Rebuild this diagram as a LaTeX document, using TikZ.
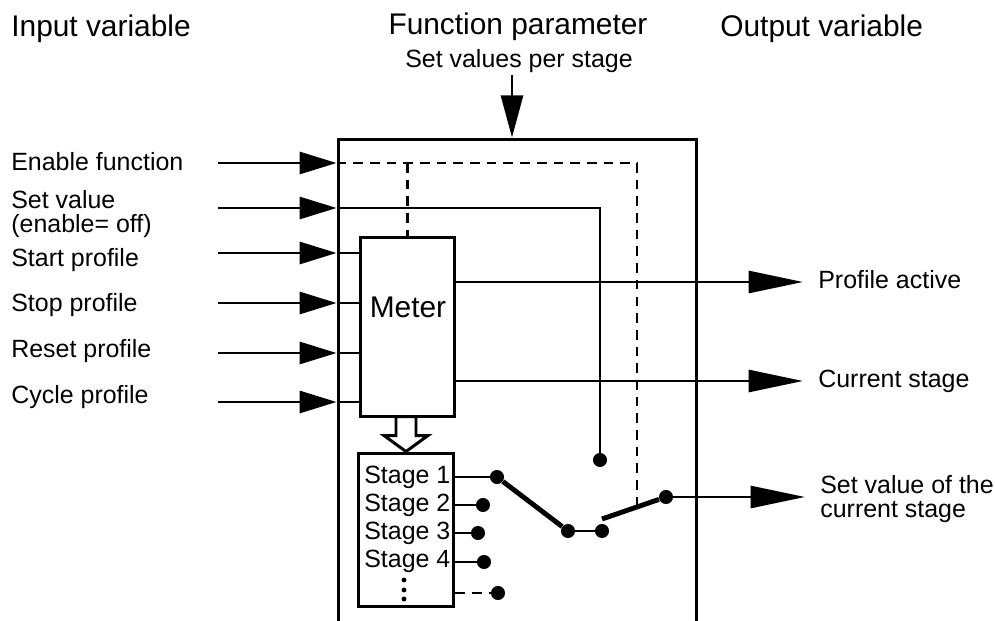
\documentclass[tikz,border=0pt]{standalone}
\usepackage{fontspec}
\setmainfont{Liberation Sans}
\usetikzlibrary{arrows.meta}
\newcommand{\headsize}{\fontsize{17}{20}\selectfont}
\newcommand{\textsz}{\fontsize{14.2}{14.2}\selectfont}

\begin{document}
\begin{tikzpicture}[
    x=0.02cm, y=-0.02cm,
    every node/.style={font=\textsz, inner sep=0pt},
    head/.style={font=\headsize},
    wire/.style={line width=1.7pt},
    dashwire/.style={wire, dash pattern=on 5.5pt off 4pt},
    lever/.style={line width=2.8pt},
    inarr/.style={wire, -{Triangle[length=21pt, width=12.5pt]}},
    outarr/.style={wire, -{Triangle[length=31pt, width=12.5pt]}},
    toparr/.style={wire, -{Triangle[length=24pt, width=12.5pt]}},
    box/.style={rectangle, draw, line width=1.7pt},
    dot/.style={circle, fill, minimum size=8pt},
    tinydot/.style={circle, fill, minimum size=2.8pt},
]
    \useasboundingbox (0,0) rectangle (995,621);

    % headings
    \node[head, anchor=base west] (hIn) at (11,37) {Input variable};
    \node[head, anchor=base] (hFn) at (518,35) {Function parameter};
    \node[anchor=base] (hSet) at (519,68) {Set values per stage};
    \node[head, anchor=base west] (hOut) at (720,37) {Output variable};

    % function block, meter and stages
    \node[box, minimum width=7.18cm, minimum height=10.42cm] (fb) at (517.5,399.5) {};
    \node[box, minimum width=1.9cm, minimum height=3.6cm] (meter) at (407.5,327) {};
    \node[head, anchor=base] (meterlbl) at (408,318) {Meter};
    \node[box, minimum width=1.92cm, minimum height=3.08cm] (stg) at (406,530) {};
    \foreach \i/\y in {1/484, 2/512, 3/540, 4/568}
        \node[anchor=base west] (st\i) at (364,\y) {Stage \i};
    \foreach \y [count=\k] in {580, 590, 599}
        \node[tinydot] (el\k) at (404,\y) {};
    \draw[wire, fill=white] (stg.north) -- ++(-22,-16) -- ++(12,0) -- ++(0,-19)
        -- ++(20,0) -- ++(0,19) -- ++(12,0) -- cycle;

    \coordinate (pTop) at (512,75);
    \draw[toparr] (pTop) -- (pTop |- fb.north);

    % inputs
    \node[anchor=base west] (lEn) at (11,171) {Enable function};
    \node[anchor=base west, align=left] (lSv) at (11,233) {Set value\\(enable= off)};
    \coordinate (iEn) at (218,163);
    \coordinate (iSv) at (218,208);
    \draw[inarr] (iEn) -- (fb.west |- iEn);
    \draw[inarr] (iSv) -- (fb.west |- iSv);
    \foreach \n/\y/\b in {Start/253/267, Stop/303/312, Reset/353/358, Cycle/402/404} {
        \node[anchor=base west] (l\n) at (11,\b) {\n\ profile};
        \coordinate (i\n) at (218,\y);
        \draw[inarr] (i\n) -- (fb.west |- i\n);
        \draw[wire] (fb.west |- i\n) -- (meter.west |- i\n);
    }

    % selector switch
    \node[dot] (d1) at (497,477) {};
    \node[dot] (d2) at (483,505) {};
    \node[dot] (d3) at (478,533) {};
    \node[dot] (d4) at (484,562) {};
    \node[dot] (d5) at (498,593) {};
    \foreach \k in {1,...,4}
        \draw[wire] (stg.east |- d\k) -- (d\k);
    \draw[dashwire] (stg.east |- d5) -- (d5);
    \node[dot] (svdot) at (600,460) {};
    \node[dot] (pv) at (568,531) {};
    \node[dot] (pw) at (602,531) {};
    \node[dot] (dout) at (666,497) {};
    \coordinate (lev) at (602,519);
    \coordinate (dsw) at (637,507);
    \draw[lever] (d1) -- (pv);
    \draw[wire] (pv) -- (pw);
    \draw[lever] (lev) -- (dout);

    \draw[wire] (fb.west |- iSv) -| (svdot);
    \draw[dashwire] (fb.west |- iEn) -| (dsw);
    \draw[dashwire] (meter.north |- iEn) -- (meter.north);

    % outputs
    \coordinate (oAct) at (803,282);
    \coordinate (oCur) at (803,381);
    \coordinate (oSet) at (805,497);
    \draw[outarr] (meter.east |- oAct) -- (oAct);
    \draw[outarr] (meter.east |- oCur) -- (oCur);
    \draw[outarr] (dout) -- (oSet);
    \node[anchor=base west] (lAct) at (818,289) {Profile active};
    \node[anchor=base west] (lCur) at (818,388) {Current stage};
    \node[anchor=base west, align=left] (lSet) at (820,518) {Set value of the\\current stage};
\end{tikzpicture}
\end{document}
